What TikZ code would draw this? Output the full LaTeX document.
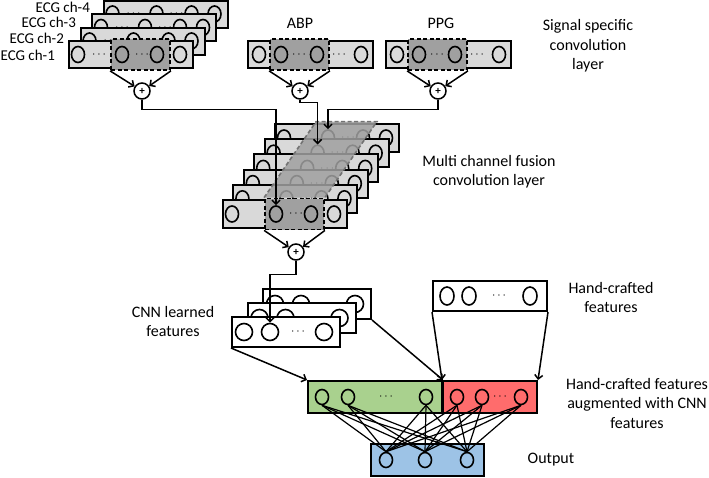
\documentclass[tikz,border=0pt]{standalone}
\usepackage{fontspec}
\setmainfont{Carlito}
\usetikzlibrary{calc}
\usetikzlibrary{arrows.meta}
\usetikzlibrary{shapes.geometric}

\definecolor{convlight}{RGB}{217,217,217}
\definecolor{convdark}{RGB}{160,160,160}
\definecolor{cnngreen}{RGB}{169,209,142}
\definecolor{hcred}{RGB}{255,108,108}
\definecolor{outblue}{RGB}{157,195,230}

\tikzset{
  convbox/.style={draw, line width=2pt, fill=convlight, minimum width=124pt, minimum height=27pt, inner sep=0pt},
  darkbox/.style={draw, line width=1.8pt, dash pattern=on 4pt off 2.5pt, fill=convdark, minimum width=59pt, minimum height=31pt, inner sep=0pt},
  featbox/.style={draw, line width=2pt, fill=white, minimum width=108pt, minimum height=30pt, inner sep=0pt},
  unit/.style={draw, ellipse, line width=1.6pt, minimum width=13pt, minimum height=16pt, inner sep=0pt},
  bigunit/.style={unit, minimum width=17pt, minimum height=17pt},
  dots/.style={inner sep=0pt, font=\fontsize{13}{13}\selectfont},
  plus/.style={draw, circle, line width=1.5pt, fill=white, minimum size=16pt, inner sep=0pt, font=\fontsize{11}{11}\selectfont\bfseries},
  lbl/.style={align=center, font=\fontsize{16}{19.5}\selectfont},
  chlbl/.style={anchor=east, font=\fontsize{15}{17}\selectfont}
}

\begin{document}
\begin{tikzpicture}[x=1pt, y=-1pt, >={Straight Barb[length=4pt,width=8pt]}, line width=1.5pt]
  \useasboundingbox (0,0) rectangle (709,477);

  \foreach \k in {4,3,2,1} {
    \node[convbox] (e\k) at ({131+11.5*(\k-1)},{54.5-13.5*(\k-1)}) {};
    \ifnum\k=1
      \node[darkbox] (e1d) at ($(e1.west)+(72.5,0)$) {};
    \fi
    \foreach \o in {10,54,89,112}
      \node[unit] (e\k u\o) at ($(e\k.west)+(\o,0)$) {};
    \foreach \o in {31,74}
      \node[dots] at ($(e\k.west)+(\o,0)$) {$\cdots$};
  }
  \node[chlbl] (l1) at (59,55) {ECG ch-1};
  \node[chlbl] (l2) at (68,38.5) {ECG ch-2};
  \node[chlbl] (l3) at (80,22.5) {ECG ch-3};
  \node[chlbl] (l4) at (94,7.5) {ECG ch-4};

  \node[convbox, minimum width=125pt] (abp) at (310.5,54.5) {};
  \node[darkbox] (abpd) at ($(abp.west)+(52.5,0)$) {};
  \node[convbox, minimum width=125pt] (ppg) at (448.5,54.5) {};
  \node[darkbox] (ppgd) at ($(ppg.west)+(52.5,0)$) {};
  \foreach \b in {abp,ppg} {
    \foreach \o in {12,34,70,114}
      \node[unit] (\b u\o) at ($(\b.west)+(\o,0)$) {};
    \foreach \o in {52,92}
      \node[dots] at ($(\b.west)+(\o,0)$) {$\cdots$};
  }
  \node[lbl] (labp) at (300,23) {ABP};
  \node[lbl] (lppg) at (441,23) {PPG};

  \node[plus] (p1) at (142,91) {+};
  \node[plus] (p2) at (300,91) {+};
  \node[plus] (p3) at (438,91) {+};
  \draw[->] (e1d.south west) -- (p1);
  \draw[->] (e1d.south east) -- (p1);
  \draw[->] (abpd.south west) -- (p2);
  \draw[->] (abpd.south east) -- (p2);
  \draw[->] (ppgd.south west) -- (p3);
  \draw[->] (ppgd.south east) -- (p3);

  \node[lbl] (lsig) at (588,46) {Signal specific\\convolution\\layer};

  \foreach \k in {5,4,3,2,1} {
    \node[convbox, minimum height=28pt] (m\k) at ({285+10.4*\k},{214-15.2*\k}) {};
    \foreach \o in {10,54,89,112}
      \node[unit] (m\k u\o) at ($(m\k.west)+(\o,0)$) {};
    \node[dots] at ($(m\k.west)+(74,0)$) {$\cdots$};
  }
  \node[convbox, minimum height=28pt] (m0) at (285,214) {};
  \node[darkbox] (m0d) at ($(m0.west)+(72.5,0)$) {};
  \foreach \o in {10,54,89,112}
    \node[unit] (m0u\o) at ($(m0.west)+(\o,0)$) {};
  \node[dots] at ($(m0.west)+(74,0)$) {$\cdots$};
  \fill[convdark, fill opacity=0.85] (m0d.north west) -- ($(m0d.north west)+(52,-76)$)
    -- ($(m0d.north east)+(52,-76)$) -- (m0d.north east) -- cycle;
  \draw[gray!90!black, dash pattern=on 4pt off 2.5pt, line width=1.6pt] (m0d.north west) -- ($(m0d.north west)+(52,-76)$)
    -- ($(m0d.north east)+(52,-76)$) -- (m0d.north east);

  \draw[->] (p1.south) -- ++(0,9.5) -| (m0u54.north);
  \draw[->] (p2.south) -- ++(0,2.5) -| (m4u54.north);
  \draw[->] (p3.south) -- ++(0,9.5) -| (m5u54.north);

  \node[lbl] (lfus) at (489,171.5) {Multi channel fusion\\convolution layer};

  \node[plus] (p4) at (296,252) {+};
  \draw[->] (m0d.south west) -- (p4);
  \draw[->] (m0d.south east) -- (p4);

  \foreach \k in {2,1,0} {
    \node[featbox] (c\k) at ({286+15.5*\k},{332-14*\k}) {};
    \foreach \o in {13,39,93}
      \node[bigunit] (c\k u\o) at ($(c\k.west)+(\o,0)$) {};
    \node[dots] at ($(c\k.west)+(67,0)$) {$\cdots$};
  }
  \draw[->] (p4.south) -- ++(0,13.5) -| (c0u39.north);
  \node[lbl] (lcnn) at (173,321.5) {CNN learned\\features};

  \node[featbox, minimum width=114pt] (hc) at (490,296) {};
  \foreach \o in {15,37,98}
    \node[unit, minimum width=14pt, minimum height=18pt] (hcu\o) at ($(hc.west)+(\o,0)$) {};
  \node[dots] at ($(hc.west)+(67,0)$) {$\cdots$};
  \node[lbl] (lhc) at (611,297.5) {Hand-crafted\\features};

  \node[featbox, fill=cnngreen, minimum width=134pt, minimum height=32pt] (grn) at (375,397) {};
  \node[featbox, fill=hcred, minimum width=94pt, minimum height=32pt] (rd) at (490,397) {};
  \node[featbox, fill=outblue, minimum width=113pt, minimum height=32pt] (out) at (427.5,460) {};
  \node[unit, minimum height=15pt] (g1) at ($(grn.west)+(15,0)$) {};
  \node[unit, minimum height=15pt] (g2) at ($(grn.west)+(41,0)$) {};
  \node[unit, minimum height=15pt] (g3) at ($(grn.west)+(119,0)$) {};
  \node[dots] at ($(grn.west)+(79,0)$) {$\cdots$};
  \node[unit, minimum height=15pt] (r1) at ($(rd.west)+(15,0)$) {};
  \node[unit, minimum height=15pt] (r2) at ($(rd.west)+(40,0)$) {};
  \node[unit, minimum height=15pt] (r3) at ($(rd.west)+(79,0)$) {};
  \node[dots] at ($(rd.west)+(58,0)$) {$\cdots$};
  \node[unit, minimum height=15pt] (o1) at ($(out.west)+(16,0)$) {};
  \node[unit, minimum height=15pt] (o2) at ($(out.west)+(55,0)$) {};
  \node[unit, minimum height=15pt] (o3) at ($(out.west)+(97,0)$) {};

  \draw[->] (c0.south west) -- (grn.north west);
  \draw[->] (c2.south east) -- (grn.north east);
  \draw[->] (hc.south west) -- (rd.north west);
  \draw[->] (hc.south east) -- (rd.north east);

  \foreach \s in {g1,g2,g3,r1,r2,r3}
    \foreach \t in {o1,o2,o3}
      \draw[line width=1.2pt] (\s.south) -- (\t.north);

  \node[lbl] (laug) at (637,403) {Hand-crafted features\\augmented with CNN\\features};
  \node[lbl] (lout) at (551,460) {Output};
\end{tikzpicture}
\end{document}
